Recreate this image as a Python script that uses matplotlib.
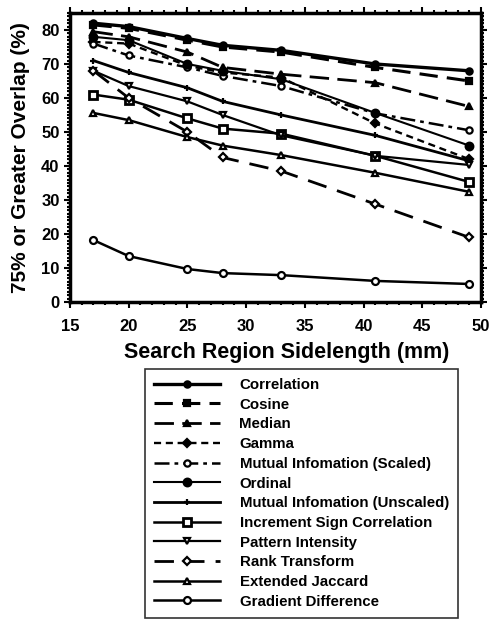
import matplotlib
matplotlib.use("Agg")
import matplotlib.pyplot as plt
from matplotlib.ticker import MultipleLocator

plt.rcParams['font.family'] = ['Liberation Sans', 'DejaVu Sans']
plt.rcParams['font.weight'] = 'bold'

sidelength = [17, 20, 25, 28, 33, 41, 49]

correlation = [82, 81, 77.5, 75.5, 74, 70, 68]
cosine = [81.5, 80.5, 77, 75, 73.5, 69, 65]
median = [79.5, 78, 73.5, 69, 67, 64.5, 57.5]
gamma = [76.5, 76, 69.5, 67.5, 66, 52.5, 42]
mi_scaled = [76, 72.5, 69, 66.5, 63.5, 55.5, 50.5]
ordinal = [78, 77, 70, 68, 65.5, 55.6, 46]
mi_unscaled = [71, 67.5, 63, 59, 55, 49, 41.5]
increment_sign = [61, 59.5, 54, 51, 49.5, 43, 35.3]
pattern_intensity = [68, 63.5, 59, 55, 49, 43, 40.3]
rank_transform = [68, 60, 50, 42.5, 38.5, 28.8, 19]
extended_jaccard = [55.6, 53.5, 48.5, 46, 43.2, 38, 32.4]
gradient_difference = [18.2, 13.5, 9.7, 8.5, 7.9, 6.2, 5.3]

labels = ["Correlation", "Cosine", "Median", "Gamma", "Mutual Infomation (Scaled)",
          "Ordinal", "Mutual Infomation (Unscaled)", "Increment Sign Correlation",
          "Pattern Intensity", "Rank Transform", "Extended Jaccard", "Gradient Difference"]

series = [correlation, cosine, median, gamma, mi_scaled, ordinal, mi_unscaled,
          increment_sign, pattern_intensity, rank_transform, extended_jaccard,
          gradient_difference]

styles = [
    dict(ls='-', marker='o', mfc='black', ms=4.5, lw=2.4),
    dict(ls=(0, (6, 3)), marker='s', mfc='black', ms=4.5, lw=2.2),
    dict(ls=(0, (7, 3)), marker='^', mfc='black', ms=4.5, lw=2.0),
    dict(ls=(0, (3, 2)), marker='D', mfc='black', ms=4, lw=1.7),
    dict(ls=(0, (6, 2, 1.5, 2)), marker='o', mfc='white', ms=4.5, lw=1.8),
    dict(ls='-', marker='o', mfc='black', ms=5.5, lw=1.5),
    dict(ls='-', marker='+', mfc='black', ms=4.5, lw=2.0),
    dict(ls='-', marker='s', mfc='white', ms=5.5, lw=1.8, mew=2),
    dict(ls='-', marker='v', mfc='white', ms=5, lw=1.6),
    dict(ls=(0, (7, 4)), marker='D', mfc='white', ms=4.5, lw=2.0),
    dict(ls='-', marker='^', mfc='white', ms=5, lw=1.8),
    dict(ls='-', marker='o', mfc='white', ms=5, lw=1.8),
]

fig = plt.figure(figsize=(4.92, 6.21), dpi=100)
ax = fig.add_axes([70/492, 1-302/621, (481-70)/492, (302-13)/621])

handles = []
for vals, lab, st in zip(series, labels, styles):
    st = dict(st)
    mew = st.pop('mew', 1.6)
    h, = ax.plot(sidelength, vals, color='black', mec='black', mew=mew, label=lab, **st)
    handles.append(h)

ax.set_xlim(15, 50)
ax.set_ylim(0, 85)
ax.xaxis.set_major_locator(MultipleLocator(5))
ax.xaxis.set_minor_locator(MultipleLocator(1))
ax.yaxis.set_major_locator(MultipleLocator(10))
ax.yaxis.set_minor_locator(MultipleLocator(1))
ax.tick_params(which='both', direction='out', top=True, right=True, width=1.5,
               labelsize=12)
ax.tick_params(which='major', length=4)
ax.tick_params(which='minor', length=2)
ax.tick_params(top=True, labeltop=False, right=True, labelright=False)
ax.tick_params(axis='x', pad=8)
for sp in ax.spines.values():
    sp.set_linewidth(2.5)
for lab in ax.get_xticklabels() + ax.get_yticklabels():
    lab.set_fontweight('bold')

ax.set_xlabel("Search Region Sidelength (mm)", fontsize=15.5, fontweight='bold', labelpad=6)
ax.xaxis.label.set_x(0.528)
ax.set_ylabel("75% or Greater Overlap (%)", fontsize=15, fontweight='bold', labelpad=8)

leg = fig.legend(handles=handles, loc='upper left', bbox_to_anchor=(145/492, 1-369/621),
                 frameon=True, fancybox=False, edgecolor='black', fontsize=10.8,
                 handlelength=4.4, handletextpad=1.3, labelspacing=0.38,
                 borderpad=0.6, borderaxespad=0)
leg.get_frame().set_linewidth(1.2)
for t in leg.get_texts():
    t.set_fontweight('bold')

fig.savefig("out.png", dpi=100)
